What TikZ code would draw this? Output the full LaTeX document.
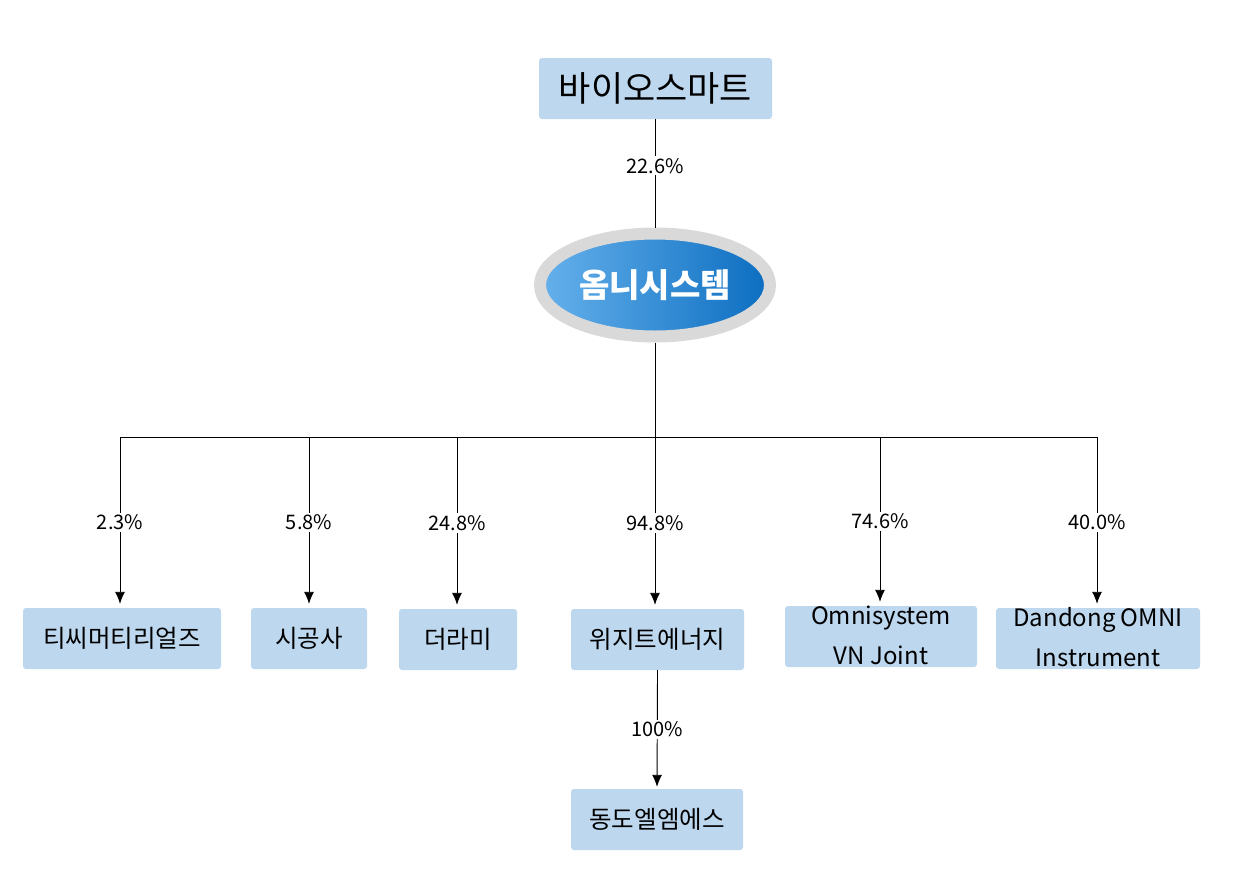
\documentclass[tikz,border=0pt]{standalone}
\usepackage{fontspec}
\setmainfont{Noto Sans CJK KR}
\usetikzlibrary{arrows.meta,shapes.geometric}
\definecolor{boxblue}{HTML}{BDD7EE}
\definecolor{ringgray}{HTML}{D9D9D9}
\definecolor{elllight}{HTML}{66B1EC}
\definecolor{elldark}{HTML}{0B6DC0}
\tikzset{
  cbox/.style={fill=boxblue, rounded corners=3pt, inner sep=0pt, align=center,
    minimum height=61pt, font=\fontsize{24.5}{30}\selectfont},
  btext/.style={inner sep=0pt, align=center, font=\fontsize{24}{40}\selectfont},
  pct/.style={fill=white, inner sep=2pt, font=\fontsize{20}{24}\selectfont},
  link/.style={line width=0.9pt, black},
  arr/.style={link, -{Latex[length=12pt,width=10pt]}, shorten >=4pt},
}
\begin{document}
\begin{tikzpicture}[x=1pt,y=-1pt]
\useasboundingbox (0,0) rectangle (1239,887);

\node[cbox, minimum width=233pt, font=\fontsize{35}{40}\selectfont] (bio) at (655.5,88.5) {바이오스마트};
\node[ellipse, minimum width=230pt, minimum height=103pt, draw=ringgray, line width=12pt,
      left color=elllight, right color=elldark, text=white, inner sep=0pt,
      font=\fontsize{33}{38}\selectfont\bfseries] (om) at (655,285) {옴니시스템};

\node[cbox, minimum width=198pt] (tc) at (122,638.5) {티씨머티리얼즈};
\node[cbox, minimum width=116pt] (sg) at (309,638.5) {시공사};
\node[cbox, minimum width=118pt] (dr) at (458,639.5) {더라미};
\node[cbox, minimum width=173pt] (wz) at (657.5,639.5) {위지트에너지};
\node[cbox, minimum width=192pt] (vn) at (881,636.5) {};
\node[btext] at ([yshift=1.5pt]vn.center) {Omnisystem\\VN Joint};
\node[cbox, minimum width=204pt] (dd) at (1098,638.5) {};
\node[btext] at ([yshift=1.5pt]dd.center) {Dandong OMNI\\Instrument};
\node[cbox, minimum width=172pt] (dm) at (657,819.5) {동도엘엠에스};

\draw[link] (bio.south -| om.north) -- node[pct, pos=0.43] {22.6\%} (om.north);

\coordinate (hub) at (655,437);
\coordinate (b1) at (120,437);
\coordinate (b2) at (309,437);
\coordinate (b3) at (457,437);
\coordinate (b4) at (655,437);
\coordinate (b5) at (880,437);
\coordinate (b6) at (1097,437);

\draw[link] (om.south) -- (hub);
\draw[link] (b1) -- (b6);

\draw[arr] (b1) -- node[pct] {2.3\%} (b1 |- tc.north);
\draw[arr] (b2) -- node[pct] {5.8\%} (b2 |- sg.north);
\draw[arr] (b3) -- node[pct] {24.8\%} (b3 |- dr.north);
\draw[arr] (b4) -- node[pct] {94.8\%} (b4 |- wz.north);
\draw[arr] (b5) -- node[pct] {74.6\%} (b5 |- vn.north);
\draw[arr] (b6) -- node[pct] {40.0\%} (b6 |- dd.north);

\draw[arr, shorten >=2pt] (wz.south) -- node[pct] {100\%} (dm.north);
\end{tikzpicture}
\end{document}
